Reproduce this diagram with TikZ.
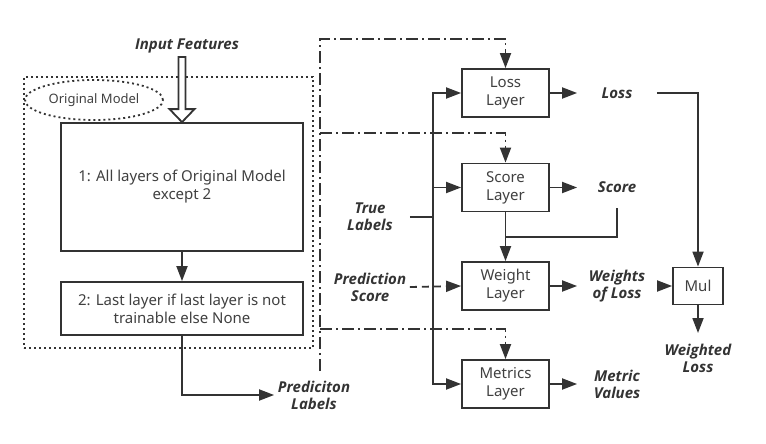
\documentclass[tikz,border=0pt]{standalone}
\usepackage{fontspec}
\setmainfont{Noto Sans}
\newfontfamily\lblfont{Open Sans}
\usetikzlibrary{arrows.meta,positioning,calc,shapes.geometric}
\definecolor{ink}{HTML}{333333}
\definecolor{soft}{HTML}{404040}
\tikzset{layer/.style={draw=ink,line width=1.8pt,align=center,font=\fontsize{15}{18}\selectfont,text=soft,minimum width=87pt,minimum height=48pt,inner sep=2pt}, flow/.style={-{Triangle[length=15pt,width=11pt]},line width=1.8pt,draw=ink}, lbl/.style={font=\lblfont\fontsize{15}{17}\selectfont\bfseries\itshape,align=center,text=ink,minimum width=78pt,minimum height=40pt,inner sep=0pt}, pred/.style={dash pattern=on 12pt off 4pt on 2pt off 4pt}, dots/.style={draw=ink,line width=1.8pt,dash pattern=on 2pt off 3pt}}

\begin{document}
\begin{tikzpicture}[x=1pt,y=-1pt,line width=1.8pt]
\useasboundingbox (0,0) rectangle (766,444);
\node[lbl,minimum height=0pt] (input) at (187,46) {Input Features};
\node[dots,minimum width=289pt,minimum height=271pt] (orig) at (168.5,212.5) {};
\node[dots,ellipse,minimum width=138pt,minimum height=40pt,inner sep=0pt,font=\fontsize{13}{15}\selectfont,text=soft] (origtag) at (94,100) {Original Model};
\node[layer,minimum width=242pt,minimum height=128pt] (body) at (182,187) {1: All layers of Original Model\\except 2};
\node[layer,minimum width=242pt,minimum height=53pt] (last) at (182,308.5) {2: Last layer if last layer is not\\trainable else None};
\node[lbl] (predlab) at (314,395) {Prediciton\\Labels};
\node[layer] (loss) at (505.5,93) {Loss\\Layer};
\node[layer] (score) at (505.5,187.5) {Score\\Layer};
\node[layer] (weight) at (505.5,286) {Weight\\Layer};
\node[layer] (metrics) at (505.5,384) {Metrics\\Layer};
\node[lbl] (lossout) at (617,93) {Loss};
\node[lbl] (scoreout) at (617,187.5) {Score};
\node[lbl] (wout) at (617,286) {Weights\\of Loss};
\node[lbl] (mout) at (617,384) {Metric\\Values};
\node[layer,minimum width=50pt,minimum height=37pt] (mul) at (698,286) {Mul};
\node[lbl,minimum height=0pt,inner ysep=10pt,anchor=north] (wloss) at (698,333) {Weighted\\Loss};
\node[lbl] (truelab) at (370,217) {True\\Labels};
\node[lbl] (predscore) at (370,287) {Prediction\\Score};
\coordinate (bus) at (433,217);
\coordinate (ptop) at (320,39);
\coordinate (pmid) at (320,133);
\coordinate (plow) at (320,329);
\coordinate (pbot) at (320,371);
\draw[draw=ink,fill=white] (body.north) -- ++(-12.5,-13) -- ++(9,0) -- ++(0,-52) -- ++(7,0) -- ++(0,52) -- ++(9,0) -- cycle;
\draw[flow] (body) -- (last);
\draw[flow] (last.south) |- (predlab.west);
\draw[draw=ink,line width=2.4pt] (truelab.east) -- (bus);
\draw[flow] (bus) |- (loss.west);
\draw[flow] (bus) |- (score.west);
\draw[flow] (bus) |- (metrics.west);
\draw[flow,dash pattern=on 7pt off 5pt] (predscore.east) -- (weight.west);
\draw[flow] (score) -- (weight);
\draw[draw=ink] (scoreout.south) |- ($(score.south)!0.5!(weight.north)$);
\draw[flow] (loss) -- (lossout);
\draw[flow] (score) -- (scoreout);
\draw[flow] (weight) -- (wout);
\draw[flow] (metrics) -- (mout);
\draw[flow] (lossout.east) -| (mul.north);
\draw[flow] (wout) -- (mul);
\draw[flow] (mul) -- (wloss);
\draw[flow,pred] (pbot) -- (ptop) -| (loss.north);
\draw[flow,pred] (pmid) -| (score.north);
\draw[flow,pred] (plow) -| (metrics.north);
\end{tikzpicture}
\end{document}
